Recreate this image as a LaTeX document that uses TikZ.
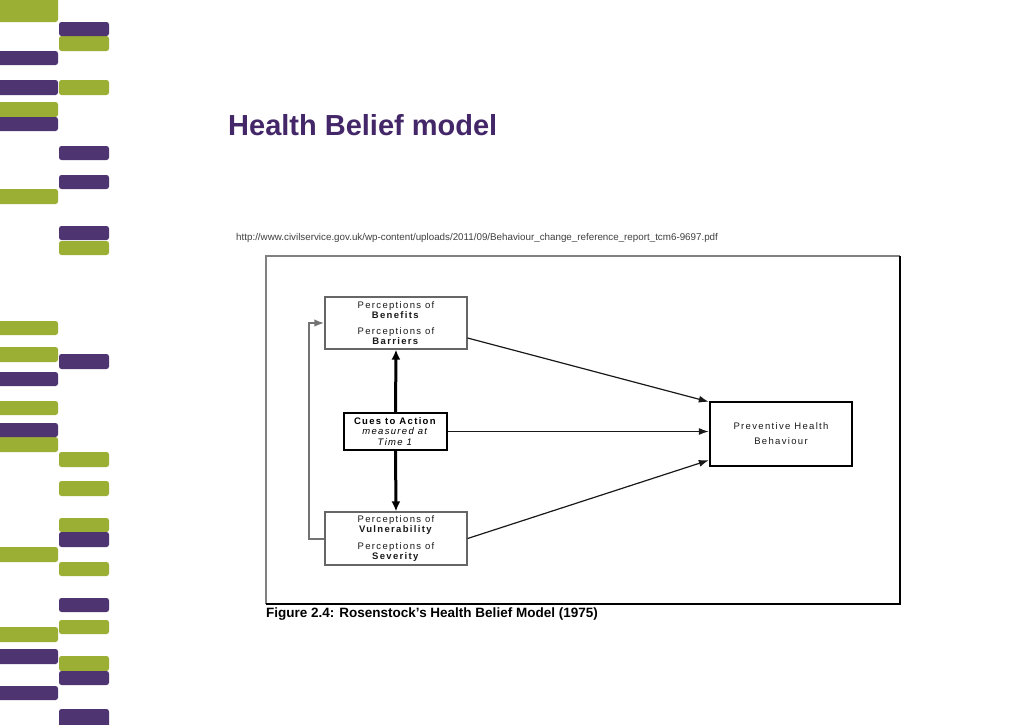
\documentclass[tikz,border=0pt]{standalone}
\usepackage{fontspec}
\setmainfont{Liberation Sans}
\newfontfamily\boxfont[LetterSpace=14]{Liberation Sans}
\usetikzlibrary{arrows.meta}
\definecolor{barG}{HTML}{9BAF34}
\definecolor{barP}{HTML}{4E3470}
\definecolor{titleP}{HTML}{432768}
\tikzset{
  gbar/.style={fill=barG, draw=none, rounded corners=2.5pt},
  pbar/.style={fill=barP, draw=none, rounded corners=2.5pt},
  thinbox/.style={draw=black!60, line width=1.2pt, minimum width=142pt, inner sep=0pt,
     font=\boxfont\fontsize{9.5}{10}\selectfont, text=black!90, align=center},
  cuebox/.style={draw=black, line width=1.3pt, minimum width=103pt, minimum height=37pt, inner sep=0pt,
     font=\boxfont\fontsize{9.5}{10.5}\selectfont, text=black, align=center},
  pvbox/.style={draw=black, line width=2.4pt, minimum width=142pt, minimum height=64pt, inner sep=0pt,
     font=\boxfont\fontsize{9.5}{15}\selectfont, text=black!90, align=center},
  thinarrow/.style={draw=black!90, line width=1.2pt, -{Latex[length=10pt,width=7pt]}},
  thickarrow/.style={draw=black, line width=3pt, -{Latex[length=10pt,width=9pt]}},
  fbarrow/.style={draw=black!55, line width=2pt, -{Latex[length=10pt,width=7.5pt]}}
}
\begin{document}
\begin{tikzpicture}[x=1pt,y=-1pt]
\useasboundingbox (0,0) rectangle (1024,724);
\fill[white] (0,0) rectangle (1024,724);
% decorative bars
\foreach \a/\b in {-6/22, 102/117, 189/204, 321/335, 347/362, 401/415, 437/452, 547/562, 627/642}
  \fill[gbar] (-5,\a) rectangle (58,\b);
\foreach \a/\b in {51/65, 80/95, 117/131, 372/386, 423/437, 649/664, 686/700}
  \fill[pbar] (-5,\a) rectangle (58,\b);
\foreach \a/\b in {36/51, 80/95, 241/255, 452/467, 481/496, 518/532, 562/576, 620/634, 656/671}
  \fill[gbar] (59,\a) rectangle (109,\b);
\foreach \a/\b in {22/36, 146/160, 175/189, 226/240, 354/369, 532/547, 598/612, 671/685, 709/730}
  \fill[pbar] (59,\a) rectangle (109,\b);
% title and url
\node[anchor=base west, inner sep=0pt, text=titleP, font=\bfseries\fontsize{29}{33}\selectfont] (title) at (228,135) {Health Belief model};
\node[anchor=base west, inner sep=0pt, text=black!75, font=\fontsize{9.8}{11}\selectfont] (url) at (236,240) {http://www.civilservice.gov.uk/wp-content/uploads/2011/09/Behaviour\_change\_reference\_report\_tcm6-9697.pdf};
% frame
\draw[black!50, line width=1.3pt] (266,604) -- (266,256) -- (900,256);
\draw[black, line width=2.6pt] (900,256) -- (900,604) -- (266,604);
\node[anchor=base west, inner sep=0pt, font=\bfseries\fontsize{13.5}{15}\selectfont] (cap) at (266,617) {Figure 2.4: Rosenstock’s Health Belief Model (1975)};
% boxes
\node[thinbox, minimum height=52pt] (b1) at (396,323) {Perceptions of\\\textbf{Benefits}\\[6.5pt]Perceptions of\\\textbf{Barriers}};
\node[cuebox] (cu) at (395.5,431.5) {\textbf{Cues to Action}\\\textit{measured at}\\\textit{Time 1}};
\node[thinbox, minimum height=53pt] (b3) at (396,538.5) {Perceptions of\\\textbf{Vulnerability}\\[6.5pt]Perceptions of\\\textbf{Severity}};
\node[pvbox] (pv) at (781,434) {Preventive Health\\Behaviour};
% connectors
\draw[thickarrow] (cu.north) -- (b1.south);
\draw[thickarrow] (cu.south) -- (b3.north);
\draw[thinarrow] (cu.east) -- (cu.east -| pv.west);
\draw[thinarrow] ([yshift=-15pt]b1.east) -- ([yshift=-1pt]pv.north west);
\draw[thinarrow] (b3.east) -- ([yshift=7pt]pv.south west);
\draw[fbarrow] (b3.west) -- ++(-15,0) |- (b1.west);
\end{tikzpicture}
\end{document}
